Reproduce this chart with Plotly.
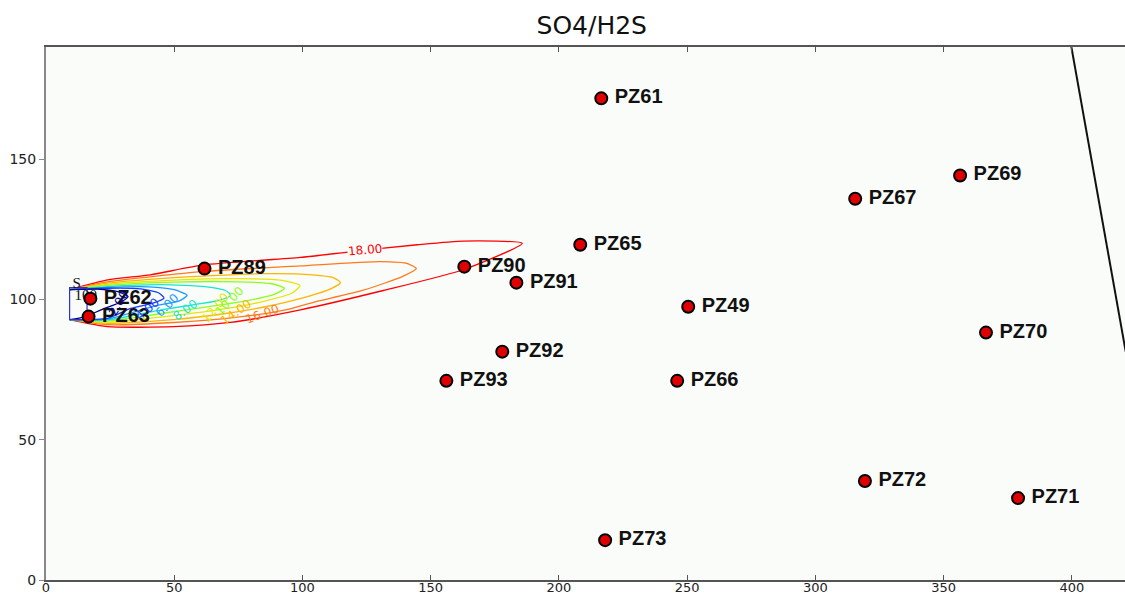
import plotly.graph_objects as go

# Monitoring wells
well_names = ["PZ61", "PZ69", "PZ67", "PZ65", "PZ90", "PZ89", "PZ91", "PZ62", "PZ49",
              "PZ63", "PZ70", "PZ92", "PZ93", "PZ66", "PZ72", "PZ71", "PZ73"]
well_x = [216.5, 356.4, 315.5, 208.3, 163.1, 61.8, 183.4, 17.3, 250.4,
          16.6, 366.5, 177.9, 156.1, 246.1, 319.3, 379.0, 218.0]
well_y = [171.7, 144.2, 135.9, 119.5, 111.7, 111.0, 106.0, 100.3, 97.4,
          93.9, 88.2, 81.4, 71.0, 71.0, 35.3, 29.2, 14.2]

# Iso-concentration lines of the plume (x, y)
contour_18 = [(9.2, 103.5), (24, 107.0), (40.7, 108.8), (61.4, 112.3), (99.2, 115.0), (118.7, 117.0),
              (144.8, 119.5), (162.7, 120.8), (185.7, 120.0), (162.7, 110.6), (131.5, 103.2),
              (99.2, 96.3), (71.9, 91.8), (49.7, 90.3), (24, 90.3), (9.2, 92.8)]
contour_16 = [(9.2, 103.5), (24, 106.3), (61.8, 110.0), (99.2, 112.0), (130.4, 113.5), (141, 112.8),
              (144.4, 111.0), (139.3, 108.3), (123.7, 103.3), (104.3, 99.0), (93.4, 96.3),
              (73.9, 93.6), (49.7, 91.8), (24, 91.0), (9.2, 92.8)]
contour_14 = [(9.2, 103.5), (24, 105.8), (50, 107.8), (84, 109.2), (104, 108.8), (112, 107.8),
              (114.8, 106.0), (111, 103.8), (99, 100.3), (86, 97.5), (70, 95.0), (49.7, 92.8),
              (24, 91.5), (9.2, 92.8)]
contour_12 = [(9.2, 103.5), (24, 105.4), (50, 106.9), (75, 107.4), (92, 106.8), (99, 105.0),
              (96, 102.3), (86, 99.6), (72, 97.0), (52, 94.5), (24, 91.9), (9.2, 92.8)]
contour_10 = [(9.2, 103.5), (24, 105.0), (50, 106.2), (75, 106.3), (88, 105.6), (93, 104.0),
              (89, 101.8), (78, 99.5), (63, 97.4), (45, 95.0), (24, 92.3), (9.2, 92.8)]
contour_8 = [(9.2, 103.5), (24, 104.6), (45, 105.3), (62, 104.6), (70, 103.2), (72, 101.5),
             (68, 99.8), (58, 98.2), (45, 96.3), (24, 92.7), (9.2, 92.8)]
contour_6 = [(9.2, 103.5), (24, 104.3), (40, 104.5), (50, 103.5), (55, 101.5), (52, 99.5),
             (43, 97.8), (24, 93.0), (9.2, 92.8)]
contour_4 = [(9.2, 103.5), (24, 104.0), (37, 103.8), (44, 102.3), (46, 100.5), (42, 98.8),
             (33, 96.8), (24, 93.3), (9.2, 92.8)]
contour_2 = [(9.2, 103.5), (20, 103.7), (28, 102.8), (32, 101.0), (29, 99.0), (22, 96.5),
             (15, 93.8), (9.2, 92.8)]

contour_levels = [18, 16, 14, 12, 10, 8, 6, 4, 2]
contour_colors = ["#ff0000", "#ff7a1a", "#ffb400", "#e6e600", "#8cff1a",
                  "#1ae6cc", "#1a9cff", "#1a3cff", "#00008c"]

# Contour label anchors (x, y, angle)
label_18 = (124.5, 117.6, -5)
label_16 = (84.4, 95.0, -20)
label_14 = (74.2, 95.4, -35)
label_12 = (66.1, 96.8, -50)
label_10 = (71.5, 99.6, -45)
label_8 = (54.4, 96.2, -35)
label_6 = (47.4, 97.9, -45)
label_4 = (39.6, 96.6, -40)
label_2 = (28.3, 98.8, -60)

# Source area
source_x = [9.2, 16.0, 16.0, 9.2, 9.2]
source_y = [92.8, 92.8, 104.2, 104.2, 92.8]
source_label_x = [12.0, 15.5]
source_label_y = [105.5, 101.2]
source_label_text = ["S", "100"]

# Model boundary
boundary_x = [399.7, 421.0]
boundary_y = [190.5, 81.3]

fig = go.Figure()

contours = [contour_18, contour_16, contour_14, contour_12, contour_10,
            contour_8, contour_6, contour_4, contour_2]
for pts, col in zip(contours, contour_colors):
    fig.add_trace(go.Scatter(
        x=[p[0] for p in pts], y=[p[1] for p in pts], mode="lines",
        line=dict(color=col, width=1.3, shape="spline", smoothing=0.6),
        hoverinfo="skip", showlegend=False))

plot_bg = "#fafcfa"
labels = [label_18, label_16, label_14, label_12, label_10, label_8, label_6, label_4, label_2]
for lvl, lab, col in zip(contour_levels, labels, contour_colors):
    fig.add_annotation(x=lab[0], y=lab[1], text=f"{lvl:.2f}", textangle=lab[2],
                       showarrow=False, font=dict(family="DejaVu Sans", size=12, color=col),
                       bgcolor=plot_bg if lvl == 18 else None, borderpad=0)

fig.add_trace(go.Scatter(x=source_x, y=source_y, mode="lines",
                         line=dict(color="#3333cc", width=1.2),
                         hoverinfo="skip", showlegend=False))
fig.add_trace(go.Scatter(x=source_label_x, y=source_label_y, mode="text",
                         text=source_label_text,
                         textfont=dict(family="Liberation Serif", size=15, color="#111"),
                         hoverinfo="skip", showlegend=False))

fig.add_trace(go.Scatter(x=boundary_x, y=boundary_y, mode="lines",
                         line=dict(color="#111", width=2),
                         hoverinfo="skip", showlegend=False))

# Well markers
fig.add_trace(go.Scatter(
    x=well_x, y=well_y, mode="markers",
    marker=dict(size=12, color="#e00000", line=dict(color="#000", width=2)),
    showlegend=False))
# Well names, placed with a wider invisible marker for the gap
fig.add_trace(go.Scatter(
    x=well_x, y=well_y, mode="markers+text", text=well_names,
    textposition="middle right",
    textfont=dict(family="Liberation Sans", size=20, color="#111", weight="bold"),
    marker=dict(size=20, opacity=0),
    hoverinfo="skip", showlegend=False))

fig.update_layout(
    width=1125, height=596,
    margin=dict(l=45.5, r=0, t=47, b=16.3),
    paper_bgcolor="white", plot_bgcolor=plot_bg,
    title=dict(text="SO4/H2S", x=0.526, xanchor="center", y=0.958, yanchor="middle",
               font=dict(family="DejaVu Sans", size=25, color="#111")),
    showlegend=False,
)
fig.update_xaxes(range=[0, 420.7], tickvals=[0, 50, 100, 150, 200, 250, 300, 350, 400],
                 showgrid=False, zeroline=False, showline=True, linecolor="#555", linewidth=2,
                 mirror="ticks", ticks="inside", ticklen=5, tickcolor="#555",
                 ticklabelstandoff=-6,
                 tickfont=dict(family="DejaVu Sans", size=13, color="#222"), automargin=False)
fig.update_yaxes(range=[0, 190], tickvals=[0, 50, 100, 150],
                 showgrid=False, zeroline=False, showline=True, linecolor="#888", linewidth=2,
                 mirror=False, ticks="outside", ticklen=5, tickcolor="#888",
                 tickfont=dict(family="DejaVu Sans", size=14, color="#222"), automargin=False)

fig.write_html("out.html")
